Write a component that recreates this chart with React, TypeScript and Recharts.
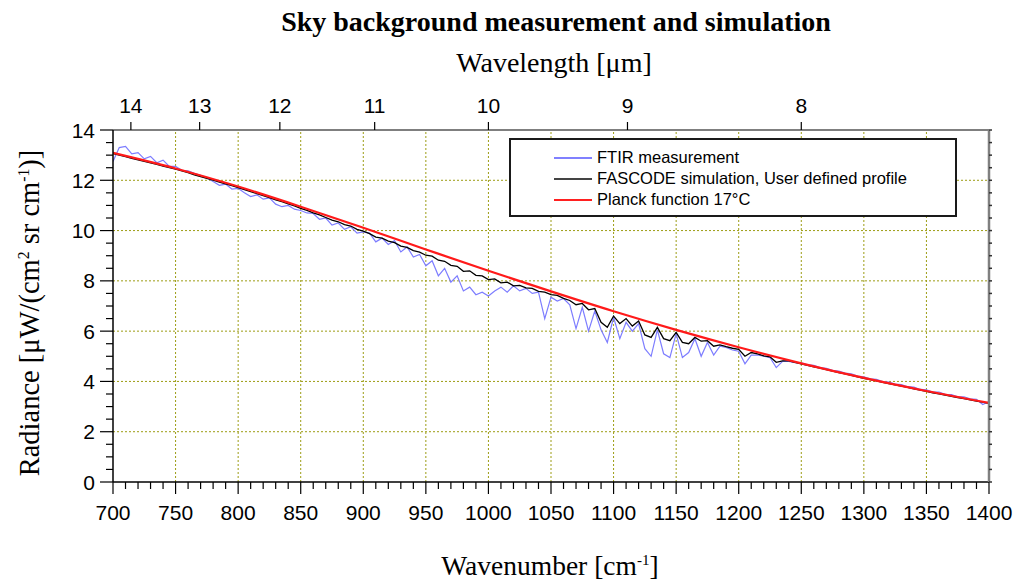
import React from 'react';
import { LineChart, Line, XAxis, YAxis, ReferenceLine, Legend } from 'recharts';

// Spectra are sampled on a regular wavenumber grid (cm^-1)
const gridStart = 700;
const gridStep = 5;

// FTIR sky measurement, µW/(cm² sr cm⁻¹), 700..1400 cm⁻¹ every 5 cm⁻¹
const ftirRadiance = [
  12.75, 13.3, 13.35, 13.05, 13.1, 12.85, 12.95, 12.7, 12.8, 12.55,
  12.55, 12.4, 12.38, 12.28, 12.2, 12.1, 11.95, 11.8, 11.85, 11.65,
  11.68, 11.5, 11.35, 11.42, 11.25, 11.3, 11.05, 10.95, 11.0, 10.85,
  10.8, 10.7, 10.68, 10.45, 10.5, 10.22, 10.3, 10.05, 10.15, 9.9,
  9.95, 9.9, 9.55, 9.7, 9.45, 9.6, 9.15, 9.35, 8.95, 9.05,
  8.6, 8.8, 8.2, 8.5, 7.95, 8.2, 7.6, 7.75, 7.45, 7.55,
  7.4, 7.6, 7.75, 7.55, 7.8, 7.6, 7.7, 7.5, 7.55, 6.5,
  7.35, 7.2, 7.3, 7.05, 6.1, 6.95, 6.0, 6.8, 6.05, 5.55,
  6.55, 5.7, 6.35, 6.0, 6.3, 5.3, 5.0, 6.05, 5.1, 4.95,
  5.9, 4.95, 5.15, 5.7, 5.0, 5.55, 5.05, 5.4, 5.35, 5.25,
  5.2, 4.7, 5.05, 5.05, 5.0, 4.95, 4.55, 4.8, 4.8, 4.75,
  4.74, 4.66, 4.64, 4.55, 4.52, 4.44, 4.41, 4.33, 4.3, 4.21,
  4.18, 4.1, 4.08, 3.99, 3.97, 3.89, 3.87, 3.79, 3.77, 3.68,
  3.67, 3.58, 3.58, 3.49, 3.48, 3.39, 3.39, 3.31, 3.29, 3.08,
  3.2,
];

// FASCODE simulation with the user defined atmosphere, same grid
const fascodeRadiance = [
  13.06, 13.0, 12.94, 12.87, 12.81, 12.75, 12.69, 12.63, 12.56, 12.5,
  12.44, 12.37, 12.3, 12.22, 12.15, 12.08, 12.01, 11.93, 11.86, 11.79,
  11.71, 11.63, 11.55, 11.47, 11.39, 11.31, 11.22, 11.15, 11.06, 10.98,
  10.88, 10.8, 10.7, 10.62, 10.52, 10.42, 10.35, 10.24, 10.18, 10.05,
  9.98, 9.88, 9.74, 9.7, 9.58, 9.52, 9.38, 9.33, 9.2, 9.14,
  9.02, 8.98, 8.82, 8.78, 8.62, 8.58, 8.38, 8.4, 8.22, 8.2,
  8.05, 8.08, 7.92, 7.95, 7.8, 7.82, 7.72, 7.7, 7.58, 7.55,
  7.45, 7.42, 7.3, 7.22, 7.05, 7.1, 6.85, 6.9, 6.35, 6.15,
  6.6, 6.3, 6.5, 6.2, 6.4, 5.85, 5.75, 6.15, 5.7, 5.62,
  5.95, 5.55, 5.5, 5.75, 5.6, 5.62, 5.4, 5.45, 5.38, 5.32,
  5.28, 5.0, 5.15, 5.1, 5.02, 4.98, 4.76, 4.82, 4.82, 4.76,
  4.7, 4.64, 4.58, 4.53, 4.47, 4.41, 4.35, 4.3, 4.24, 4.18,
  4.12, 4.07, 4.02, 3.96, 3.91, 3.86, 3.81, 3.76, 3.7, 3.65,
  3.6, 3.55, 3.51, 3.46, 3.41, 3.36, 3.32, 3.27, 3.22, 3.18,
  3.13,
];

// Blackbody curve at 17 °C
const planckWavenumbers = [700, 750, 800, 850, 900, 950, 1000, 1050, 1100, 1150, 1200, 1250, 1300, 1350, 1400];
const planckRadiance = [13.09, 12.47, 11.75, 10.95, 10.11, 9.25, 8.4, 7.58, 6.79, 6.05, 5.36, 4.72, 4.14, 3.62, 3.15];

// Series names and colours, in legend order
const seriesNames = ['FTIR measurement', 'FASCODE simulation, User defined profile', 'Planck function 17°C'];
const seriesColors = ['#7d7dff', '#000000', '#ff1a1a'];
const legendSwatch = ['#8080ff', '#444444', '#ff2020'];

// Axis ticks
const wavelengthLabels = [14, 13, 12, 11, 10, 9, 8];
const wavenumberGrid = [750, 800, 850, 900, 950, 1000, 1050, 1100, 1150, 1200, 1250, 1300, 1350];
const radianceGrid = [2, 4, 6, 8, 10, 12];

const ftirData = ftirRadiance.map((v, i) => ({ wn: gridStart + i * gridStep, v }));
const fascodeData = fascodeRadiance.map((v, i) => ({ wn: gridStart + i * gridStep, v }));
const planckData = planckRadiance.map((v, i) => ({ wn: planckWavenumbers[i], v }));

const xMinorTicks = Array.from({ length: 71 }, (_, i) => 700 + i * 10);
const yMinorTicks = Array.from({ length: 29 }, (_, i) => i * 0.5);
const topTicks = wavelengthLabels.map((um) => 10000 / um);

const sans = '"Liberation Sans", Arial, sans-serif';
const serif = '"Liberation Serif", "Times New Roman", serif';
const gridColor = '#9c9c14';
const tickFont = 21;

const BottomTick = (props: any) => {
  const { x, y, payload } = props;
  const major = payload.value % 50 === 0;
  return (
    <g>
      <line x1={x} x2={x} y1={y} y2={y + (major ? 12 : 7)} stroke="#000" strokeWidth={1.2} />
      {major && (
        <text x={x} y={y + 30} textAnchor="middle" dominantBaseline="central" fontFamily={sans} fontSize={tickFont} fill="#000">
          {payload.value}
        </text>
      )}
    </g>
  );
};

const LeftTick = (props: any) => {
  const { x, y, payload } = props;
  const major = payload.value % 2 === 0;
  return (
    <g>
      <line x1={x - (major ? 13 : 7)} x2={x} y1={y} y2={y} stroke="#000" strokeWidth={1.2} />
      {major && (
        <text x={x - 18} y={y} textAnchor="end" dominantBaseline="central" fontFamily={sans} fontSize={tickFont} fill="#000">
          {payload.value}
        </text>
      )}
    </g>
  );
};

const RightTick = (props: any) => {
  const { x, y } = props;
  return <line x1={x} x2={x + 3} y1={y} y2={y} stroke="#333" strokeWidth={1.5} />;
};

const TopTick = (props: any) => {
  const { x, y, payload } = props;
  return (
    <g>
      <line x1={x} x2={x} y1={y - 8} y2={y} stroke="#000" strokeWidth={1.2} />
      <text x={x} y={y - 25} textAnchor="middle" dominantBaseline="central" fontFamily={sans} fontSize={tickFont} fill="#000">
        {Math.round(10000 / payload.value)}
      </text>
    </g>
  );
};

const LegendBox = () => (
  <div
    style={{
      width: 448,
      height: 79,
      boxSizing: 'border-box',
      border: '2px solid #1a1a1a',
      background: '#fff',
      paddingTop: 7,
    }}
  >
    {seriesNames.map((name, i) => (
      <div key={name} style={{ display: 'flex', alignItems: 'center', height: 21, fontFamily: sans, fontSize: 16.5, color: '#000' }}>
        <div style={{ marginLeft: 43, width: 38, height: 2, background: legendSwatch[i] }} />
        <span style={{ marginLeft: 5 }}>{name}</span>
      </div>
    ))}
  </div>
);

export default function App() {
  return (
    <div style={{ position: 'absolute', left: 0, top: 0, width: 1015, height: 581, background: '#fff', fontFamily: serif }}>
      <LineChart width={1015} height={581} data={ftirData} margin={{ top: 0, right: 0, bottom: 0, left: 0 }}>
        <XAxis
          xAxisId="bottom"
          dataKey="wn"
          type="number"
          domain={[700, 1400]}
          ticks={xMinorTicks}
          interval={0}
          height={99}
          tickSize={0}
          tickMargin={0}
          tickLine={false}
          tick={<BottomTick />}
          axisLine={{ stroke: '#000', strokeWidth: 1.5 }}
          allowDataOverflow
        />
        <XAxis
          xAxisId="top"
          orientation="top"
          dataKey="wn"
          type="number"
          domain={[700, 1400]}
          ticks={topTicks}
          interval={0}
          height={130}
          tickSize={0}
          tickMargin={0}
          tickLine={false}
          tick={<TopTick />}
          axisLine={{ stroke: '#000', strokeWidth: 1.2 }}
          allowDataOverflow
        />
        <YAxis
          yAxisId="left"
          type="number"
          domain={[0, 14]}
          ticks={yMinorTicks}
          interval={0}
          width={113}
          tickSize={0}
          tickMargin={0}
          tickLine={false}
          tick={<LeftTick />}
          axisLine={{ stroke: '#000', strokeWidth: 1.5 }}
          allowDataOverflow
        />
        <YAxis
          yAxisId="right"
          orientation="right"
          type="number"
          domain={[0, 14]}
          ticks={yMinorTicks}
          interval={0}
          width={26}
          tickSize={0}
          tickMargin={0}
          tickLine={false}
          tick={<RightTick />}
          axisLine={{ stroke: '#808080', strokeWidth: 2.5 }}
          allowDataOverflow
        />

        {wavenumberGrid.map((wn) => (
          <ReferenceLine key={`gx${wn}`} xAxisId="bottom" yAxisId="left" x={wn} stroke={gridColor} strokeDasharray="2 2" />
        ))}
        {radianceGrid.map((r) => (
          <ReferenceLine key={`gy${r}`} xAxisId="bottom" yAxisId="left" y={r} stroke={gridColor} strokeDasharray="2 2" />
        ))}

        <Line
          xAxisId="bottom"
          yAxisId="left"
          data={ftirData}
          dataKey="v"
          name={seriesNames[0]}
          type="linear"
          stroke={seriesColors[0]}
          strokeWidth={1.2}
          dot={false}
          isAnimationActive={false}
        />
        <Line
          xAxisId="bottom"
          yAxisId="left"
          data={fascodeData}
          dataKey="v"
          name={seriesNames[1]}
          type="linear"
          stroke={seriesColors[1]}
          strokeWidth={1.3}
          dot={false}
          isAnimationActive={false}
        />
        <Line
          xAxisId="bottom"
          yAxisId="left"
          data={planckData}
          dataKey="v"
          name={seriesNames[2]}
          type="monotone"
          stroke={seriesColors[2]}
          strokeWidth={2.2}
          dot={false}
          isAnimationActive={false}
        />

        <Legend
          layout="vertical"
          align="center"
          verticalAlign="middle"
          content={<LegendBox />}
          wrapperStyle={{ position: 'absolute', left: 509, top: 138, width: 448, height: 79 }}
        />
      </LineChart>

      <div style={{ position: 'absolute', left: 556, top: 22, transform: 'translate(-50%, -50%)', whiteSpace: 'nowrap', fontFamily: serif, fontWeight: 'bold', fontSize: 28 }}>
        Sky background measurement and simulation
      </div>
      <div style={{ position: 'absolute', left: 554, top: 63, transform: 'translate(-50%, -50%)', whiteSpace: 'nowrap', fontFamily: serif, fontSize: 28 }}>
        Wavelength [μm]
      </div>
      <div style={{ position: 'absolute', left: 550, top: 566, transform: 'translate(-50%, -50%)', whiteSpace: 'nowrap', fontFamily: serif, fontSize: 27.5, lineHeight: 1 }}>
        Wavenumber [cm<sup style={{ fontSize: '0.55em' }}>-1</sup>]
      </div>
      <div style={{ position: 'absolute', left: 30, top: 313, transform: 'translate(-50%, -50%) rotate(-90deg)', whiteSpace: 'nowrap', fontFamily: serif, fontSize: 28.5, lineHeight: 1 }}>
        Radiance [μW/(cm<sup style={{ fontSize: '0.55em' }}>2</sup> sr cm<sup style={{ fontSize: '0.55em' }}>-1</sup>)]
      </div>
    </div>
  );
}
